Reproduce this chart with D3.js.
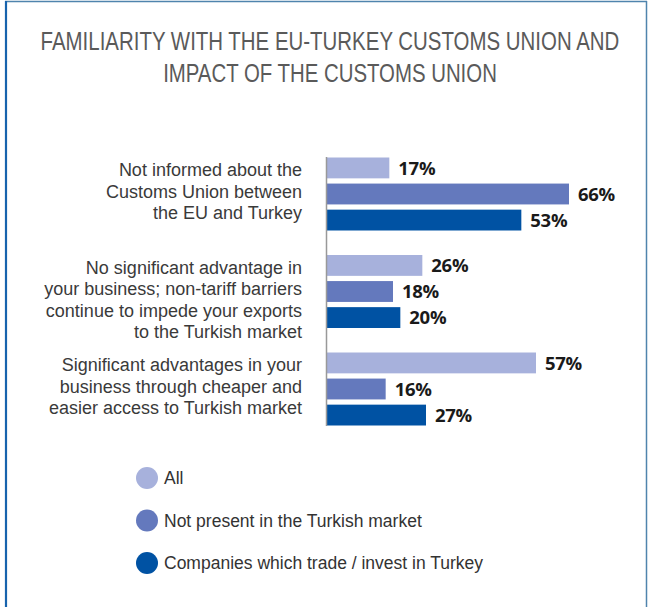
<!DOCTYPE html>
<html>
<head>
<meta charset="utf-8">
<script src="https://cdn.jsdelivr.net/npm/d3@7"></script>
<style>
  html, body { margin: 0; padding: 0; background: #fff; }
  svg { display: block; }
</style>
</head>
<body>
<svg id="chart" width="648" height="607"></svg>
<script>
const titleLines = ["FAMILIARITY WITH THE EU-TURKEY CUSTOMS UNION AND", "IMPACT OF THE CUSTOMS UNION"];
const categories = [
  ["Not informed about the", "Customs Union between", "the EU and Turkey"],
  ["No significant advantage in", "your business; non-tariff barriers", "continue to impede your exports", "to the Turkish market"],
  ["Significant advantages in your", "business through cheaper and", "easier access to Turkish market"]
];
const seriesNames = ["All", "Not present in the Turkish market", "Companies which trade / invest in Turkey"];
const seriesAll = [17, 26, 57];
const seriesNotPresent = [66, 18, 16];
const seriesCompanies = [53, 20, 27];
const colors = ["#a7b1dc", "#6479bd", "#0052a3"];

const svg = d3.select("#chart");
const font = "'Open Sans', sans-serif";
const narrow = "'Liberation Sans Narrow', 'Liberation Sans', sans-serif";

// frame
svg.append("line").attr("x1", 5).attr("x2", 647).attr("y1", 1.5).attr("y2", 1.5)
  .attr("stroke", "#4f84ad").attr("stroke-width", 1.5);
svg.append("line").attr("x1", 6).attr("x2", 6).attr("y1", 1).attr("y2", 607)
  .attr("stroke", "#1763ad").attr("stroke-width", 2.2);
svg.append("line").attr("x1", 646.5).attr("x2", 646.5).attr("y1", 1).attr("y2", 607)
  .attr("stroke", "#4f84ad").attr("stroke-width", 1.5);

// title: fit width by font size, keep cap height by vertical scaling
const titleWidths = [579, 334];
const baseSize = 25;
titleLines.forEach((t, i) => {
  const el = svg.append("text")
    .attr("text-anchor", "middle")
    .attr("font-family", narrow)
    .attr("font-size", baseSize).attr("fill", "#5a5a5a")
    .text(t);
  const w = el.node().getComputedTextLength();
  const f = baseSize * titleWidths[i] / w;
  el.attr("font-size", f)
    .attr("transform", `translate(330,${49.5 + i * 32}) scale(1,${baseSize / f})`);
});

const series = [seriesAll, seriesNotPresent, seriesCompanies];
const x = d3.scaleLinear().domain([0, 66]).range([327, 569]);
const yGroup = d3.scaleBand().domain(d3.range(categories.length)).range([157.5, 450]).paddingInner(0).paddingOuter(0);
const yInner = d3.scaleBand().domain(d3.range(series.length)).range([0, 73]).paddingInner(0.2);

const g = svg.append("g");
categories.forEach((cat, ci) => {
  const gy = yGroup(ci);
  series.forEach((s, si) => {
    const y0 = gy + yInner(si);
    g.append("rect").attr("x", x(0)).attr("y", y0)
      .attr("width", x(s[ci]) - x(0)).attr("height", yInner.bandwidth())
      .attr("fill", colors[si]);
    g.append("text").attr("x", x(s[ci]) + 9).attr("y", y0 + yInner.bandwidth() / 2)
      .attr("dy", "0.36em")
      .attr("font-family", font).attr("font-weight", 700).attr("font-size", 18.5)
      .attr("fill", "#1a1a1a").attr("letter-spacing", -0.3)
      .text(s[ci] + "%");
  });
  g.append("g").selectAll("text").data(cat).join("text")
    .attr("x", 302).attr("y", (d, i) => gy + 12.5 + i * 21.5)
    .attr("dy", "0.36em")
    .attr("text-anchor", "end")
    .attr("font-family", narrow).attr("font-size", 18).attr("fill", "#3a3a3a")
    .text(d => d);
});

// axis line
svg.append("line").attr("x1", x(0) - 0.5).attr("x2", x(0) - 0.5).attr("y1", 157).attr("y2", 426)
  .attr("stroke", "#999").attr("stroke-width", 1.5);

// legend
const lg = svg.append("g");
seriesNames.forEach((n, i) => {
  lg.append("circle").attr("cx", 147).attr("cy", 478 + i * 42.5).attr("r", 11).attr("fill", colors[i]);
  lg.append("text").attr("x", 164).attr("y", 478 + i * 42.5).attr("dy", "0.36em")
    .attr("font-family", narrow).attr("font-size", 17.5).attr("fill", "#333")
    .text(n);
});
</script>
</body>
</html>
